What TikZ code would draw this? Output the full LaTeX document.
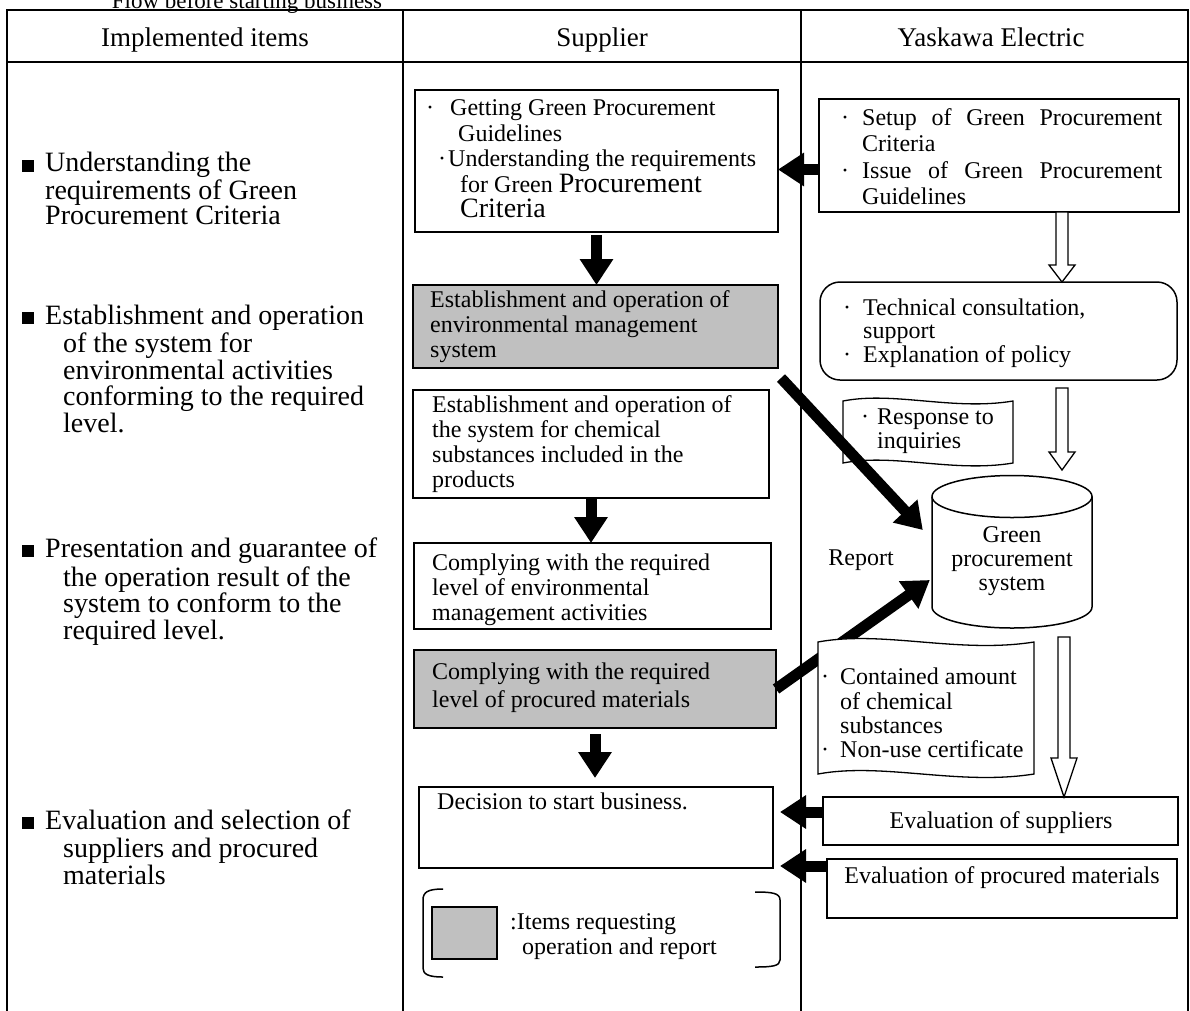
\documentclass[tikz,border=0pt]{standalone}
\usepackage{fontspec}
\setmainfont{Liberation Serif}
\usetikzlibrary{arrows.meta,calc}
\definecolor{boxgray}{RGB}{192,192,192}
\newcommand\fsL{\fontsize{28}{26.5}\selectfont}
\newcommand\fsM{\fontsize{24}{25}\selectfont}
\newcommand\fsH{\fontsize{27}{28}\selectfont}
\newcommand\fsBig{\fontsize{28}{26}\selectfont}
\newcommand\sqb{\rule{12pt}{12pt}\hspace{11pt}}
\newcommand\bu[1]{\makebox[#1][c]{·}}
\newcommand\hollowdown[3]{%
  \draw[line width=1.3pt, fill=white] let \p1=(#1), \p2=(#2) in
    (\x1-6pt,\y1) -- (\x1-6pt,\y2+#3) -- (\x1-13pt,\y2+#3) -- (\x1,\y2)
    -- (\x1+13pt,\y2+#3) -- (\x1+6pt,\y2+#3) -- (\x1+6pt,\y1) -- cycle;}
\newcommand\tapeshape[5]{%
  \draw[line width=1.3pt, fill=white]
    (#1,#2) .. controls ({#1+0.3*(#3-#1)},{#2-2*#5}) and ({#1+0.65*(#3-#1)},{#2+2*#5}) .. (#3,#2)
    -- (#3,#4) .. controls ({#1+0.65*(#3-#1)},{#4+2*#5}) and ({#1+0.3*(#3-#1)},{#4-2*#5}) .. (#1,#4) -- cycle;}
\begin{document}
\begin{tikzpicture}[x=1pt,y=-1pt,
  box/.style={draw, line width=1.5pt, rectangle, inner sep=0pt, outer sep=0pt, anchor=north west},
  graybox/.style={box, fill=boxgray},
  txt/.style={anchor=north west, inner sep=0pt, align=left, font=\fsM},
  ltxt/.style={anchor=north west, inner sep=0pt, align=left, font=\fsL},
  ctxt/.style={anchor=center, inner sep=0pt, align=center, font=\fsM},
  head/.style={anchor=base, inner sep=0pt, font=\fsH},
  bigarrow/.style={line width=11pt, -{Triangle[length=26pt,width=32pt]}},
  tableline/.style={line width=1.8pt}]
\useasboundingbox (0,0) rectangle (1190,1010);
\clip (0,0) rectangle (1190,1010);
\fill[white] (0,0) rectangle (1190,1010);

% title and table
\node[font=\fontsize{23}{25}\selectfont, anchor=base] (title) at (247,8) {Flow before starting business};
\draw[tableline] (7,1020) -- (7,10) -- (1188,10) -- (1188,1020);
\draw[tableline] (7,62) -- (1188,62);
\draw[tableline] (403,10) -- (403,1020);
\draw[tableline] (801,10) -- (801,1020);
\node[head] (hd1) at (205,46) {Implemented items};
\node[head] (hd2) at (602,46) {Supplier};
\node[head] (hd3) at (991,46) {Yaskawa Electric};

% left column
\node[ltxt, font=\fontsize{28}{23}\selectfont] (L1) at (22,152) {\strut\sqb Understanding the\\\hspace*{23pt}requirements of Green\\\hspace*{23pt}Procurement Criteria};
\node[ltxt] (L2) at (22,304.5) {\strut\sqb Establishment and operation\\\hspace*{41pt}of the system for\\\hspace*{41pt}environmental activities\\\hspace*{41pt}conforming to the required\\\hspace*{41pt}level.};
\node[ltxt] (L3) at (22,537.5) {\strut\sqb Presentation and guarantee of\\\hspace*{41pt}the operation result of the\\\hspace*{41pt}system to conform to the\\\hspace*{41pt}required level.};
\node[ltxt] (L4) at (22,809.5) {\strut\sqb Evaluation and selection of\\\hspace*{41pt}suppliers and procured\\\hspace*{41pt}materials};

% supplier column boxes
\node[box, minimum width=363pt, minimum height=142pt] (A) at (415,90) {};
\node[txt, font=\fontsize{24}{25.5}\selectfont] (At) at (410,97.5) {\strut\bu{40pt}Getting Green Procurement\\\hspace*{48pt}Guidelines\\\hspace*{26pt}\bu{12pt}Understanding the requirements\\\hspace*{50pt}for Green {\fsBig Procurement}\\\hspace*{50pt}{\fsBig Criteria}};
\node[graybox, minimum width=365pt, minimum height=83pt] (B) at (413,285) {};
\node[txt] (Bt) at (430,289.5) {\strut Establishment and operation of\\environmental management\\system};
\node[box, minimum width=356pt, minimum height=108pt] (C) at (413,390) {};
\node[txt] (Ct) at (432,394.5) {\strut Establishment and operation of\\the system for chemical\\substances included in the\\products};
\node[box, minimum width=357pt, minimum height=86pt] (D) at (414,543) {};
\node[txt] (Dt) at (432,552.5) {\strut Complying with the required\\level of environmental\\management activities};
\node[graybox, minimum width=362pt, minimum height=78pt] (E) at (414,650) {};
\node[txt, font=\fontsize{24}{28}\selectfont] (Et) at (432,660) {\strut Complying with the required\\level of procured materials};
\node[box, minimum width=354pt, minimum height=81pt] (F) at (419,787) {};
\node[txt] (Ft) at (437,791.5) {\strut Decision to start business.};

% legend
\node[graybox, minimum width=65pt, minimum height=52pt] (LG) at (432,907) {};
\node[txt] (LGt) at (510,911.5) {\strut:Items requesting\\\hspace*{12pt}operation and report};
\draw[line width=1.5pt] (443,889) .. controls (428,889) and (423,892) .. (423,900) -- (423,968) .. controls (423,974) and (428,977) .. (443,977);
\draw[line width=1.5pt] (755,892) .. controls (772,892) and (780,893) .. (780,900) -- (780,960) .. controls (780,966) and (772,967) .. (755,967);

% Yaskawa column
\node[box, minimum width=360pt, minimum height=113pt] (G) at (819,99) {};
\node[txt, font=\fontsize{24}{26.5}\selectfont] (Gt) at (828,106.5) {\strut\bu{34pt}\makebox[300pt][s]{Setup\hfill of\hfill Green\hfill Procurement}\\\hspace*{34pt}Criteria\\\bu{34pt}\makebox[300pt][s]{Issue\hfill of\hfill Green\hfill Procurement}\\\hspace*{34pt}Guidelines};
\node[box, rounded corners=20pt, minimum width=357pt, minimum height=98pt] (H) at (820,282) {};
\node[txt, font=\fontsize{24}{23.5}\selectfont] (Ht) at (831,298.5) {\strut\bu{32pt}Technical consultation,\\\hspace*{32pt}support\\\bu{32pt}Explanation of policy};

% Green procurement system (cylinder)
\node[inner sep=0pt, minimum width=160pt, minimum height=153pt] (GPS) at (1012,551.5) {};
\draw[line width=1.5pt, fill=white] (932,496.5) -- (932,607)
  arc[start angle=180, end angle=360, x radius=80pt, y radius=21pt] -- (1092,496.5)
  arc[start angle=0, end angle=180, x radius=80pt, y radius=21pt] -- cycle;
\draw[line width=1.5pt] (932,496.5) arc[start angle=180, end angle=360, x radius=80pt, y radius=21pt];
\node[ctxt, font=\fontsize{24}{24}\selectfont] (GPSt) at (1012,561) {Green\\procurement\\system};
\node[font=\fsM, inner sep=0pt] (rep) at (861,560) {Report};

% documents
\tapeshape{843}{401}{1013}{463}{5}
\node[txt, font=\fontsize{24}{24}\selectfont] (Rt) at (853,407.5) {\strut\bu{24pt}Response to\\\hspace*{24pt}inquiries};

% arrows from supplier to system
\draw[bigarrow] ([shift={(3pt,-10pt)}]B.south east) -- ([shift={(-9pt,21.5pt)}]GPS.west);
\draw[bigarrow] (E.east) -- ([shift={(-2pt,-28.5pt)}]GPS.west);

\tapeshape{818}{642}{1034}{774}{6}
\node[txt, font=\fontsize{24}{24}\selectfont] (Ct2) at (810,667.5) {\strut\bu{30pt}Contained amount\\\hspace*{30pt}of chemical\\\hspace*{30pt}substances\\\bu{30pt}Non-use certificate};

\node[box, minimum width=355pt, minimum height=48pt] (I) at (823,797) {};
\node[ctxt] (It) at (1001,823) {Evaluation of suppliers};
\node[box, minimum width=350pt, minimum height=59pt] (J) at (827,859) {};
\node[ctxt] (Jt) at (1002,878) {Evaluation of procured materials};

% hollow arrows
\coordinate (hx) at (1062,0);
\coordinate (h1s) at (hx |- G.south);
\coordinate (h1e) at (hx |- H.north);
\coordinate (h2s) at (1062,388);
\coordinate (h2e) at (1062,470);
\coordinate (h3s) at (1064,637);
\coordinate (h3e) at (h3s |- I.north);
\hollowdown{h1s}{h1e}{17pt}
\hollowdown{h2s}{h2e}{18pt}
\hollowdown{h3s}{h3e}{39pt}

% black arrows
\coordinate (ga) at ([yshift=-14pt]G.west);
\draw[bigarrow] (ga) -- (ga -| A.east);
\draw[bigarrow, shorten <=3pt] (A.south) -- (A.south |- B.north);
\draw[bigarrow] (C.south) -- (C.south |- D.north);
\draw[bigarrow, shorten <=6pt, shorten >=9pt] (E.south) -- (E.south |- F.north);
\coordinate (ia) at ([yshift=9pt]I.west);
\draw[bigarrow, shorten >=7pt] (ia) -- (ia -| F.east);
\coordinate (ja) at ([yshift=22.5pt]J.west);
\draw[bigarrow, shorten >=7pt] (ja) -- (ja -| F.east);
\end{tikzpicture}
\end{document}
